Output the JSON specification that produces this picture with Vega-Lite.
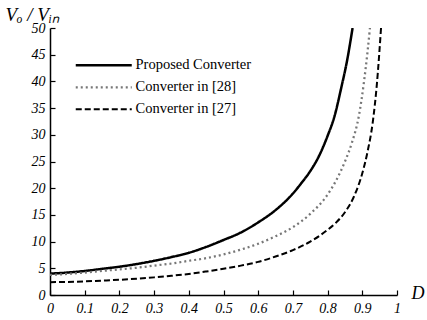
{
  "$schema": "https://vega.github.io/schema/vega-lite/v6.json",
  "width": 347,
  "height": 267,
  "autosize": "none",
  "padding": {"left": 50, "top": 28, "right": 30, "bottom": 25},
  "background": "white",
  "config": {
    "view": {"stroke": null},
    "font": "Liberation Serif",
    "axis": {
      "grid": false,
      "domainColor": "black",
      "domainWidth": 1.5,
      "tickColor": "black",
      "tickWidth": 1.2,
      "tickSize": -5,
      "labelFont": "Liberation Serif",
      "labelFontStyle": "italic",
      "labelFontSize": 14,
      "labelColor": "black",
      "titleFont": "Liberation Serif",
      "titleFontStyle": "italic",
      "titleFontWeight": "normal",
      "titleColor": "black"
    },
    "legend": {
      "labelFont": "Liberation Serif",
      "labelFontSize": 14.5,
      "labelColor": "black"
    }
  },
  "data": {
    "values": [
      {"D": 0, "V": 4.0, "s": "Proposed Converter"},
      {"D": 0.05, "V": 4.2, "s": "Proposed Converter"},
      {"D": 0.1, "V": 4.5, "s": "Proposed Converter"},
      {"D": 0.15, "V": 4.9, "s": "Proposed Converter"},
      {"D": 0.2, "V": 5.3, "s": "Proposed Converter"},
      {"D": 0.25, "V": 5.8, "s": "Proposed Converter"},
      {"D": 0.3, "V": 6.4, "s": "Proposed Converter"},
      {"D": 0.35, "V": 7.1, "s": "Proposed Converter"},
      {"D": 0.4, "V": 7.9, "s": "Proposed Converter"},
      {"D": 0.45, "V": 9.0, "s": "Proposed Converter"},
      {"D": 0.5, "V": 10.3, "s": "Proposed Converter"},
      {"D": 0.55, "V": 11.7, "s": "Proposed Converter"},
      {"D": 0.6, "V": 13.6, "s": "Proposed Converter"},
      {"D": 0.65, "V": 15.9, "s": "Proposed Converter"},
      {"D": 0.7, "V": 19.0, "s": "Proposed Converter"},
      {"D": 0.725, "V": 21.0, "s": "Proposed Converter"},
      {"D": 0.75, "V": 23.2, "s": "Proposed Converter"},
      {"D": 0.775, "V": 26.0, "s": "Proposed Converter"},
      {"D": 0.8, "V": 29.8, "s": "Proposed Converter"},
      {"D": 0.82, "V": 33.5, "s": "Proposed Converter"},
      {"D": 0.84, "V": 39.0, "s": "Proposed Converter"},
      {"D": 0.855, "V": 43.5, "s": "Proposed Converter"},
      {"D": 0.872, "V": 50.0, "s": "Proposed Converter"},
      {"D": 0, "V": 3.75, "s": "Converter in [28]"},
      {"D": 0.05, "V": 3.95, "s": "Converter in [28]"},
      {"D": 0.1, "V": 4.2, "s": "Converter in [28]"},
      {"D": 0.15, "V": 4.5, "s": "Converter in [28]"},
      {"D": 0.2, "V": 4.8, "s": "Converter in [28]"},
      {"D": 0.25, "V": 5.1, "s": "Converter in [28]"},
      {"D": 0.3, "V": 5.5, "s": "Converter in [28]"},
      {"D": 0.35, "V": 5.9, "s": "Converter in [28]"},
      {"D": 0.4, "V": 6.4, "s": "Converter in [28]"},
      {"D": 0.45, "V": 6.9, "s": "Converter in [28]"},
      {"D": 0.5, "V": 7.6, "s": "Converter in [28]"},
      {"D": 0.55, "V": 8.5, "s": "Converter in [28]"},
      {"D": 0.6, "V": 9.6, "s": "Converter in [28]"},
      {"D": 0.65, "V": 11.0, "s": "Converter in [28]"},
      {"D": 0.7, "V": 12.7, "s": "Converter in [28]"},
      {"D": 0.75, "V": 15.2, "s": "Converter in [28]"},
      {"D": 0.8, "V": 18.8, "s": "Converter in [28]"},
      {"D": 0.825, "V": 21.5, "s": "Converter in [28]"},
      {"D": 0.85, "V": 25.0, "s": "Converter in [28]"},
      {"D": 0.87, "V": 28.5, "s": "Converter in [28]"},
      {"D": 0.89, "V": 33.5, "s": "Converter in [28]"},
      {"D": 0.905, "V": 40.0, "s": "Converter in [28]"},
      {"D": 0.915, "V": 45.5, "s": "Converter in [28]"},
      {"D": 0.922, "V": 50.0, "s": "Converter in [28]"},
      {"D": 0, "V": 2.4, "s": "Converter in [27]"},
      {"D": 0.05, "V": 2.45, "s": "Converter in [27]"},
      {"D": 0.1, "V": 2.55, "s": "Converter in [27]"},
      {"D": 0.15, "V": 2.7, "s": "Converter in [27]"},
      {"D": 0.2, "V": 2.85, "s": "Converter in [27]"},
      {"D": 0.25, "V": 3.05, "s": "Converter in [27]"},
      {"D": 0.3, "V": 3.3, "s": "Converter in [27]"},
      {"D": 0.35, "V": 3.6, "s": "Converter in [27]"},
      {"D": 0.4, "V": 3.95, "s": "Converter in [27]"},
      {"D": 0.45, "V": 4.4, "s": "Converter in [27]"},
      {"D": 0.5, "V": 4.9, "s": "Converter in [27]"},
      {"D": 0.55, "V": 5.5, "s": "Converter in [27]"},
      {"D": 0.6, "V": 6.2, "s": "Converter in [27]"},
      {"D": 0.65, "V": 7.2, "s": "Converter in [27]"},
      {"D": 0.7, "V": 8.4, "s": "Converter in [27]"},
      {"D": 0.75, "V": 10.0, "s": "Converter in [27]"},
      {"D": 0.8, "V": 12.2, "s": "Converter in [27]"},
      {"D": 0.825, "V": 13.6, "s": "Converter in [27]"},
      {"D": 0.85, "V": 15.5, "s": "Converter in [27]"},
      {"D": 0.875, "V": 18.3, "s": "Converter in [27]"},
      {"D": 0.9, "V": 22.8, "s": "Converter in [27]"},
      {"D": 0.915, "V": 26.8, "s": "Converter in [27]"},
      {"D": 0.93, "V": 32.3, "s": "Converter in [27]"},
      {"D": 0.942, "V": 39.5, "s": "Converter in [27]"},
      {"D": 0.954, "V": 50.0, "s": "Converter in [27]"}
    ]
  },
  "mark": {"type": "line", "interpolate": "monotone", "clip": true},
  "encoding": {
    "x": {
      "field": "D", "type": "quantitative",
      "scale": {"domain": [0, 1], "nice": false},
      "axis": {
        "values": [0, 0.1, 0.2, 0.3, 0.4, 0.5, 0.6, 0.7, 0.8, 0.9, 1],
        "labelExpr": "datum.value == 0 ? '0' : datum.value == 1 ? '1' : format(datum.value, '.1f')",
        "labelPadding": 11,
        "labelFlush": false,
        "title": "D",
        "titleFontSize": 18,
        "titleAngle": 0,
        "titleAlign": "left",
        "titleBaseline": "middle",
        "titleX": 361,
        "titleY": -2
      }
    },
    "y": {
      "field": "V", "type": "quantitative",
      "scale": {"domain": [0, 50], "nice": false},
      "axis": {
        "values": [0, 5, 10, 15, 20, 25, 30, 35, 40, 45, 50],
        "labelPadding": 10,
        "labelFlush": false,
        "title": "Vₒ / Vᵢₙ",
        "titleFontSize": 19,
        "titleAngle": 0,
        "titleAlign": "left",
        "titleBaseline": "alphabetic",
        "titleX": -45,
        "titleY": -8
      }
    },
    "color": {
      "field": "s", "type": "nominal",
      "scale": {
        "domain": ["Proposed Converter", "Converter in [28]", "Converter in [27]"],
        "range": ["#000000", "#777777", "#000000"]
      },
      "legend": {
        "title": null,
        "orient": "none",
        "legendX": 46.5,
        "legendY": 30,
        "symbolType": "M-8,0H8",
        "symbolSize": 49,
        "symbolStrokeWidth": 2.5,
        "labelOffset": 24.5,
        "labelExpr": "datum.label == 'Proposed Converter' ? '\u00a0\u00a0Proposed Converter' : datum.label",
        "rowPadding": 7,
        "labelLimit": 300
      }
    },
    "strokeDash": {
      "field": "s", "type": "nominal",
      "scale": {
        "domain": ["Proposed Converter", "Converter in [28]", "Converter in [27]"],
        "range": [[1, 0], [2, 3], [6, 3]]
      },
      "legend": {
        "title": null,
        "orient": "none",
        "legendX": 46.5,
        "legendY": 30,
        "symbolType": "M-8,0H8",
        "symbolSize": 49,
        "symbolStrokeWidth": 2.5,
        "labelOffset": 24.5,
        "labelExpr": "datum.label == 'Proposed Converter' ? '\u00a0\u00a0Proposed Converter' : datum.label",
        "rowPadding": 7,
        "labelLimit": 300
      }
    },
    "strokeWidth": {
      "field": "s", "type": "nominal",
      "scale": {
        "domain": ["Proposed Converter", "Converter in [28]", "Converter in [27]"],
        "range": [2.5, 2, 2.5]
      },
      "legend": null
    }
  }
}
